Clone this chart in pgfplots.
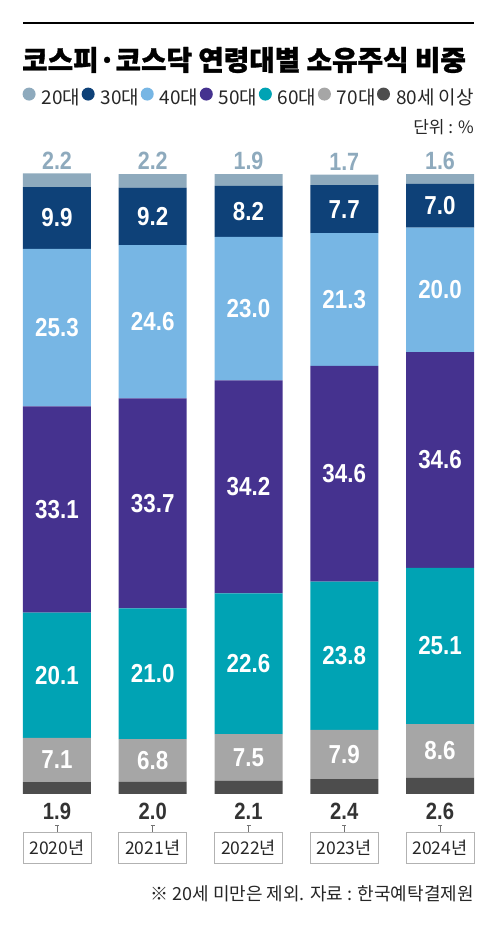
\documentclass[border=0pt]{standalone}
\usepackage{fontspec}
\usepackage{pgfplots}
\usepackage{pgfplotstable}
\pgfplotsset{compat=1.18}
\setmainfont{Noto Sans CJK KR}
\newfontfamily\titlefont[BoldFeatures={FakeBold=1.2}]{Noto Sans CJK KR}
\newfontfamily\numfont[FakeStretch=0.86]{Liberation Sans}

\definecolor{c20}{HTML}{8EAABD}
\definecolor{c30}{HTML}{0E4178}
\definecolor{c40}{HTML}{77B6E4}
\definecolor{c50}{HTML}{45328F}
\definecolor{c60}{HTML}{00A3B4}
\definecolor{c70}{HTML}{A6A6A6}
\definecolor{c80}{HTML}{4D4D4D}

% share of listed stocks by owner age group, %
\pgfplotstableread{
x a80 a70 a60 a50 a40 a30 a20
0 1.9 7.1 20.1 33.1 25.3 9.9 2.2
1 2.0 6.8 21.0 33.7 24.6 9.2 2.2
2 2.1 7.5 22.6 34.2 23.0 8.2 1.9
3 2.4 7.9 23.8 34.6 21.3 7.7 1.7
4 2.6 8.6 25.1 34.6 20.0 7.0 1.6
}\data

% labels sit mid-segment; 100 units = 623.1pt, so half a unit is 3.1156pt
\pgfplotsset{
  dotleg/.style={legend image code/.code={\fill[##1,draw=none] (6.5pt,0.35em) circle (6.5pt);}},
  vlabel/.style={
    nodes near coords={\pgfmathprintnumber[fixed,zerofill,precision=1]{\pgfplotspointmeta}},
    visualization depends on={rawy \as \rawy},
  },
  inlabel/.style={vlabel,
    every node near coord/.append style={font=\numfont\bfseries\fontsize{26}{26}\selectfont,
      text=white, anchor=center, inner sep=0pt}},
}

\begin{document}
\begin{tikzpicture}
\useasboundingbox (0,0) rectangle (500pt,931pt);
\draw[line width=1.5pt] (23pt,908pt) -- (474pt,908pt);
\node[anchor=west, inner sep=0pt] at (22pt,871pt)
  {\titlefont\fontsize{27.7}{27.7}\selectfont\bfseries 코스피·코스닥 연령대별 소유주식 비중};
\node[anchor=east, inner sep=0pt, text=black!85] at (474pt,804pt)
  {\fontsize{17}{17}\selectfont 단위 : \%};
\node[anchor=east, inner sep=0pt, text=black!85] at (474pt,37pt)
  {\fontsize{18}{18}\selectfont ※ 20세 미만은 제외. 자료 : 한국예탁결제원};

\begin{axis}[
  at={(23pt,137pt)}, anchor=south west,
  width=451pt, height=623.1pt, scale only axis,
  ybar stacked, bar width=68pt,
  xmin=-0.355, xmax=4.355, ymin=0, ymax=100,
  axis line style={draw=none}, major tick style={draw=none},
  ytick=\empty,
  xtick=data,
  xticklabels={2020년,2021년,2022년,2023년,2024년},
  xticklabel style={font=\fontsize{17.5}{17.5}\selectfont, text=black!85,
    draw=black!30, line width=0.8pt, minimum width=68pt, minimum height=31pt,
    inner sep=0pt, anchor=north, yshift=-38pt,
    append after command={(\tikzlastnode.north) edge[draw=black!55, line width=0.8pt] ++(0,7pt)
      ([xshift=-2pt,yshift=7pt]\tikzlastnode.north) edge[draw=black!55, line width=0.8pt] ++(4pt,0)}},
  /pgf/number format/assume math mode=true,
  legend columns=-1, reverse legend,
  legend style={at={(1,1)}, anchor=east, yshift=74pt, draw=none, fill=none,
    inner sep=0pt, font=\fontsize{19}{19}\selectfont, text=black!85,
    nodes={inner sep=0pt},
    /tikz/every even column/.append style={column sep=1.5pt},
    /tikz/every odd column/.append style={column sep=6pt}},
]
\addplot[fill=c80, draw=none, dotleg, vlabel,
  every node near coord/.append style={font=\numfont\bfseries\fontsize{23.5}{23.5}\selectfont,
    text=black!80, anchor=north, inner sep=0pt, yshift={-9pt-3.1156pt*\rawy}}]
  table[x=x, y=a80] {\data};
\addplot[fill=c70, draw=none, dotleg, inlabel] table[x=x, y=a70] {\data};
\addplot[fill=c60, draw=none, dotleg, inlabel] table[x=x, y=a60] {\data};
\addplot[fill=c50, draw=none, dotleg, inlabel] table[x=x, y=a50] {\data};
\addplot[fill=c40, draw=none, dotleg, inlabel] table[x=x, y=a40] {\data};
\addplot[fill=c30, draw=none, dotleg, inlabel] table[x=x, y=a30] {\data};
\addplot[fill=c20, draw=none, dotleg, vlabel,
  every node near coord/.append style={font=\numfont\bfseries\fontsize{25}{25}\selectfont,
    text=c20, anchor=south, inner sep=0pt, yshift={4pt+3.1156pt*\rawy}}]
  table[x=x, y=a20] {\data};
\legend{80세 이상,70대,60대,50대,40대,30대,20대}
\end{axis}
\end{tikzpicture}
\end{document}
